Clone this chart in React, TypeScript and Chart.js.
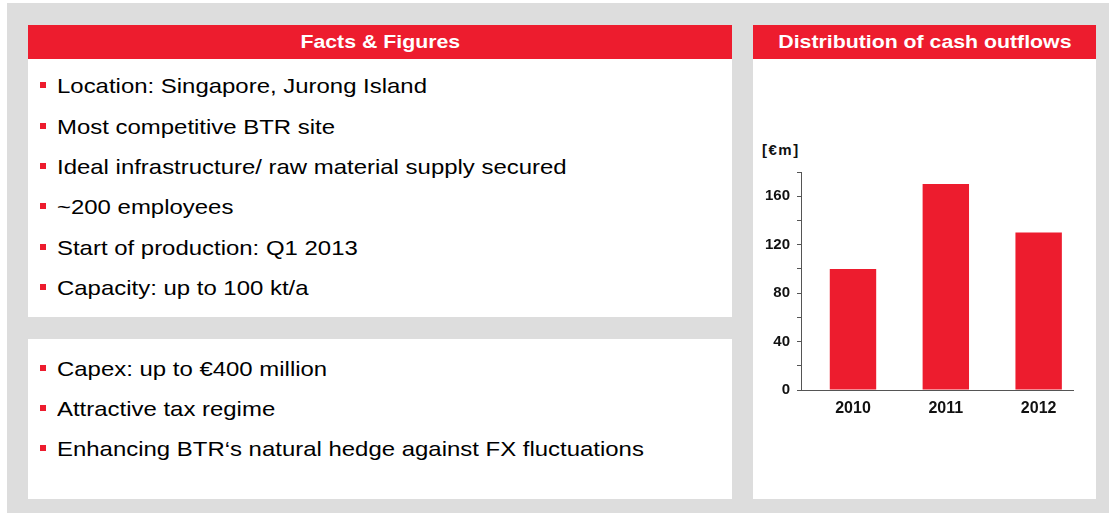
import React, { useEffect, useRef } from 'react';
import { Chart, registerables } from 'chart.js';

Chart.register(...registerables);

const RED = '#ED1C2E';
const GRAY = '#DDDDDD';
const FONT = 'Arial, "Liberation Sans", sans-serif';

const categories = ['2010', '2011', '2012'];
const cashOutflows = [100, 170, 130];
const yMax = 180;
const yStep = 20;
const yLabelEvery = 40;
const unitLabel = '[€m]';

const factsTitle = 'Facts & Figures';
const chartTitle = 'Distribution of cash outflows';
const factsLines = [
  'Location: Singapore, Jurong Island',
  'Most competitive BTR site',
  'Ideal infrastructure/ raw material supply secured',
  '~200 employees',
  'Start of production: Q1 2013',
  'Capacity: up to 100 kt/a',
];
const capexLines = [
  'Capex: up to €400 million',
  'Attractive tax regime',
  'Enhancing BTR‘s natural hedge against FX fluctuations',
];

function BarChart() {
  const ref = useRef<HTMLCanvasElement | null>(null);
  useEffect(() => {
    if (!ref.current) return;
    const points = categories.map((_, i) => ({ x: i, y: cashOutflows[i] }));
    const chart = new Chart(ref.current, {
      type: 'bar',
      data: {
        datasets: [
          {
            data: points as any,
            backgroundColor: RED,
            borderWidth: 0,
            barPercentage: 0.5,
            categoryPercentage: 1,
          },
        ],
      },
      options: {
        responsive: false,
        animation: false,
        layout: { padding: { left: 8, right: 23, top: 22, bottom: 10 } },
        plugins: { legend: { display: false }, tooltip: { enabled: false } },
        scales: {
          x: {
            type: 'linear',
            offset: false,
            min: -0.56,
            max: 2.37,
            grid: { display: false, drawTicks: false, offset: false },
            border: { display: true, color: '#555555', width: 1 },
            ticks: {
              stepSize: 1,
              includeBounds: false,
              padding: 9,
              color: '#111111',
              font: { family: FONT, size: 16, weight: 'bold' },
              callback: (v: any) => {
                const n = Number(v);
                return Number.isInteger(n) && categories[n] !== undefined ? categories[n] : '';
              },
            },
            afterFit: (s: any) => {
              s.height = 30;
            },
          },
          y: {
            min: 0,
            max: yMax,
            grid: {
              display: true,
              drawOnChartArea: false,
              drawTicks: true,
              tickLength: 4,
              color: '#555555',
            },
            border: { display: true, color: '#555555', width: 1 },
            ticks: {
              stepSize: yStep,
              padding: 7,
              color: '#111111',
              font: { family: FONT, size: 15, weight: 'bold' },
              callback: (v: any) => (Number(v) % yLabelEvery === 0 ? String(v) : ''),
            },
            afterFit: (s: any) => {
              s.width = 40;
            },
          },
        },
      },
    });
    return () => chart.destroy();
  }, []);
  return <canvas ref={ref} width={343} height={280} style={{ width: 343, height: 280, display: 'block' }} />;
}

const STRETCH = 1.14;

function Bullet({ text, cy }: { text: string; cy: number }) {
  return (
    <div style={{ position: 'absolute', left: 40, top: cy - 13, height: 26, lineHeight: '26px', whiteSpace: 'nowrap' }}>
      <span
        style={{
          position: 'absolute',
          left: 0,
          top: 9,
          width: 6,
          height: 6,
          background: RED,
        }}
      />
      <span
        style={{
          position: 'absolute',
          left: 17,
          top: 0,
          fontSize: 21,
          color: '#000',
          display: 'inline-block',
          transform: `scaleX(${STRETCH})`,
          transformOrigin: 'left center',
        }}
      >
        {text}
      </span>
    </div>
  );
}

function Header({ text, left, width }: { text: string; left: number; width: number }) {
  return (
    <div
      style={{
        position: 'absolute',
        left,
        top: 25,
        width,
        height: 34,
        background: RED,
        color: '#fff',
        fontWeight: 'bold',
        fontSize: 19,
        lineHeight: '34px',
        textAlign: 'center',
        whiteSpace: 'nowrap',
      }}
    >
      <span style={{ display: 'inline-block', transform: 'scaleX(1.12)', transformOrigin: 'center center' }}>{text}</span>
    </div>
  );
}

export default function App() {
  const factsY = [86, 127, 167, 207, 248, 288];
  const capexY = [369, 409, 449];
  return (
    <div
      style={{
        position: 'fixed',
        left: 0,
        top: 0,
        width: 1109,
        height: 513,
        background: '#fff',
        fontFamily: FONT,
        overflow: 'hidden',
      }}
    >
      <div style={{ position: 'absolute', left: 7, top: 3, right: 0, bottom: 0, background: GRAY }} />
      <Header text={factsTitle} left={28} width={704} />
      <div style={{ position: 'absolute', left: 28, top: 59, width: 704, height: 258, background: '#fff' }} />
      <div style={{ position: 'absolute', left: 28, top: 339, width: 704, height: 160, background: '#fff' }} />
      <Header text={chartTitle} left={753} width={343} />
      <div style={{ position: 'absolute', left: 753, top: 59, width: 343, height: 440, background: '#fff' }} />
      {factsLines.map((t, i) => (
        <Bullet key={'f' + i} text={t} cy={factsY[i]} />
      ))}
      {capexLines.map((t, i) => (
        <Bullet key={'c' + i} text={t} cy={capexY[i]} />
      ))}
      <div
        style={{
          position: 'absolute',
          left: 762,
          top: 141,
          fontSize: 15,
          fontWeight: 'bold',
          color: '#111',
          lineHeight: '18px',
          letterSpacing: '1.5px',
        }}
      >
        {unitLabel}
      </div>
      <div style={{ position: 'absolute', left: 753, top: 150 }}>
        <BarChart />
      </div>
    </div>
  );
}
